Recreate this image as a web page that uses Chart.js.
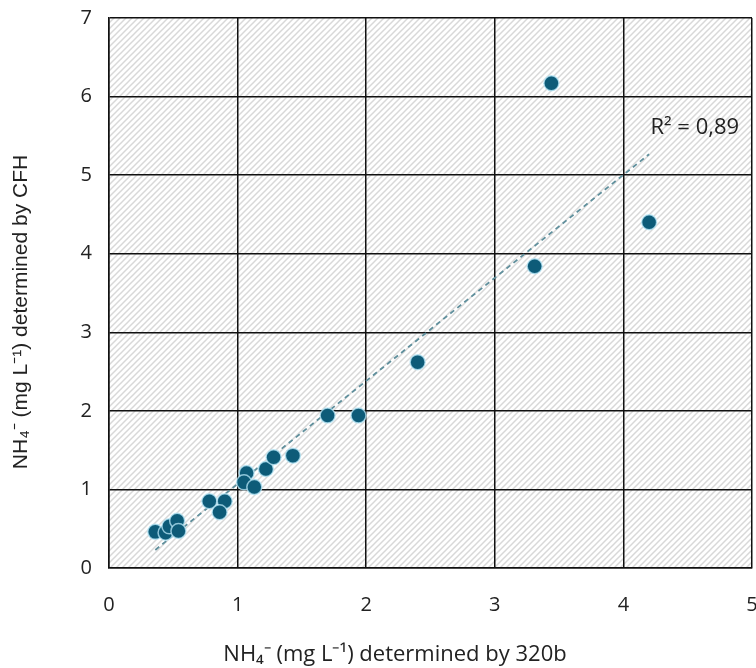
<!DOCTYPE html>
<html>
<head>
<meta charset="utf-8">
<script src="https://cdn.jsdelivr.net/npm/chart.js@4/dist/chart.umd.min.js"></script>
<style>
  html,body{margin:0;padding:0;background:#fff;}
  #wrap{width:756px;height:668px;}
</style>
</head>
<body>
<div id="wrap"><canvas id="c" width="756" height="668"></canvas></div>
<script>
// NH4 measured by 320b (x) vs CFH (y)
const x320b = [0.36,0.44,0.47,0.53,0.54,0.78,0.90,0.86,1.07,1.05,1.13,1.22,1.28,1.43,1.70,1.94,2.40,3.31,3.44,4.20];
const yCFH  = [0.46,0.45,0.53,0.60,0.47,0.85,0.85,0.71,1.21,1.09,1.03,1.26,1.41,1.43,1.94,1.94,2.62,3.84,6.17,4.40];
const xTicks = [0,1,2,3,4,5];
const yTicks = [0,1,2,3,4,5,6,7];
const xTitle = 'NH\u2084\u207B (mg L\u207B\u00B9) determined by 320b';
const yTitle = 'NH\u2084\u207B (mg L\u207B\u00B9) determined by CFH';
const r2Label = 'R\u00B2 = 0,89';

const pts = x320b.map((x,i)=>({x, y:yCFH[i]}));

// least squares trend line over the data range
const n = pts.length;
const mx = x320b.reduce((a,b)=>a+b,0)/n, my = yCFH.reduce((a,b)=>a+b,0)/n;
let sxy=0, sxx=0;
pts.forEach(p=>{ sxy+=(p.x-mx)*(p.y-my); sxx+=(p.x-mx)*(p.x-mx); });
const slope = sxy/sxx, icpt = my - slope*mx;
const xmin = Math.min(...x320b), xmax = Math.max(...x320b);
const trend = [{x:xmin, y:slope*xmin+icpt}, {x:xmax, y:slope*xmax+icpt}];

// hatched plot background
function hatch(){
  const s=6, c=document.createElement('canvas'); c.width=s; c.height=s;
  const g=c.getContext('2d');
  g.fillStyle='#fff'; g.fillRect(0,0,s,s);
  g.strokeStyle='#d8d8d8'; g.lineWidth=1.5;
  [[-1,s+1,s+1,-1],[-1,1,1,-1],[s-1,s+1,s+1,s-1]].forEach(l=>{
    g.beginPath(); g.moveTo(l[0],l[1]); g.lineTo(l[2],l[3]); g.stroke();
  });
  return c;
}
const bgPlugin = {
  id:'bg',
  beforeDraw(chart){
    const {ctx, chartArea:a} = chart;
    ctx.save();
    ctx.fillStyle = ctx.createPattern(hatch(),'repeat');
    ctx.fillRect(a.left,a.top,a.right-a.left,a.bottom-a.top);
    ctx.restore();
  }
};
// R² note + axis titles (titles sit centred on the figure, not on the plot area)
const textPlugin = {
  id:'texts',
  afterDraw(chart){
    const {ctx, scales:{x,y}} = chart;
    ctx.save();
    ctx.fillStyle = '#222';
    ctx.textBaseline = 'middle';
    ctx.font = '22px "Open Sans", sans-serif';
    ctx.fillText(r2Label, x.getPixelForValue(4.21), y.getPixelForValue(5.6));
    ctx.textAlign = 'center';
    ctx.fillText(xTitle, 395, 655);
    ctx.translate(21, 312);
    ctx.rotate(-Math.PI/2);
    ctx.font = '21px "Liberation Sans", Arial, sans-serif';
    ctx.fillText(yTitle, 0, 0);
    ctx.restore();
  }
};
// tick padding otherwise leaks into the plot-area margins
const noPad = s=>{ s.paddingLeft=0; s.paddingRight=0; s.paddingTop=0; s.paddingBottom=0; };

new Chart(document.getElementById('c'), {
  type:'scatter',
  data:{ datasets:[
    { data:pts, backgroundColor:'#0d5b78', borderColor:'rgba(185,232,248,0.75)', borderWidth:1.5, pointRadius:7.5, order:1 },
    { type:'line', data:trend, borderColor:'#5f8f9c', borderWidth:1.8, borderDash:[5,4], pointRadius:0, fill:false, order:2 }
  ]},
  options:{
    responsive:false, animation:false,
    layout:{autoPadding:false, padding:{top:18,right:4,left:0,bottom:0}},
    plugins:{legend:{display:false}, tooltip:{enabled:false}},
    scales:{
      x:{
        type:'linear', min:0, max:5,
        afterBuildTicks:s=>{ s.ticks = xTicks.map(v=>({value:v})); },
        afterFit:s=>{ s.height = 100; noPad(s); },
        grid:{color:'#111', lineWidth:1.5, drawTicks:false},
        border:{color:'#111', width:1.5},
        ticks:{padding:25, color:'#222', font:{family:'"Open Sans", sans-serif', size:20}}
      },
      y:{
        type:'linear', min:0, max:7,
        afterBuildTicks:s=>{ s.ticks = yTicks.map(v=>({value:v})); },
        afterFit:s=>{ s.width = 109; noPad(s); },
        grid:{color:'#111', lineWidth:1.5, drawTicks:false},
        border:{color:'#111', width:1.5},
        ticks:{padding:17, color:'#222', font:{family:'"Open Sans", sans-serif', size:20}}
      }
    }
  },
  plugins:[bgPlugin, textPlugin]
});
</script>
</body>
</html>
